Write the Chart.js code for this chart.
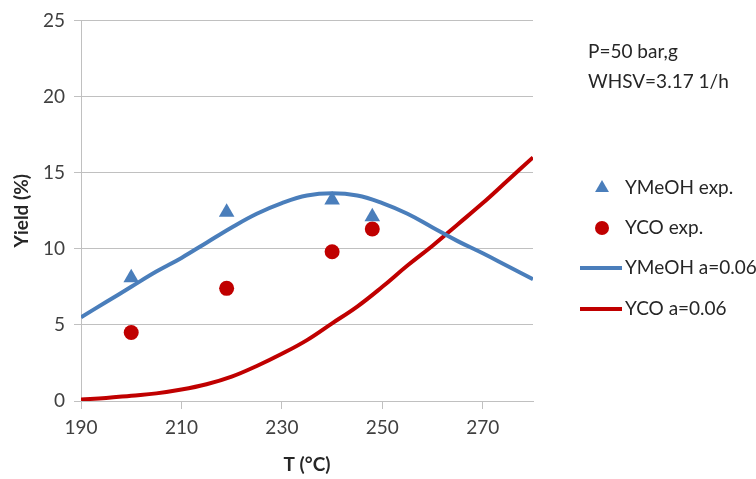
<!DOCTYPE html>
<html>
<head>
<meta charset="utf-8">
<script src="https://cdn.jsdelivr.net/npm/chart.js@4"></script>
<style>
  html, body { margin: 0; padding: 0; background: #fff; }
  #wrap { width: 756px; height: 479px; }
</style>
</head>
<body>
<div id="wrap"><canvas id="yieldChart" width="756" height="479"></canvas></div>
<script>
// experimental points
const expT = [200, 219, 240, 248];
const yMeOHExp = [8.1, 12.4, 13.2, 12.1];
const yCOExp = [4.5, 7.4, 9.8, 11.3];

// model curves (a=0.06)
const modelT = [190, 195, 200, 205, 210, 215, 220, 225, 230, 235, 240, 245, 250, 255, 260, 265, 270, 275, 280];
const yMeOHModel = [5.5, 6.5, 7.5, 8.5, 9.4, 10.4, 11.4, 12.3, 13.0, 13.5, 13.65, 13.5, 13.0, 12.3, 11.4, 10.5, 9.7, 8.85, 8.0];
const yCOModel = [0.1, 0.2, 0.35, 0.5, 0.75, 1.1, 1.6, 2.3, 3.1, 4.0, 5.1, 6.2, 7.5, 8.9, 10.2, 11.6, 13.0, 14.5, 16.0];

const xTicks = [190, 210, 230, 250, 270];
const yTicks = [0, 5, 10, 15, 20, 25];

const noteLines = ['P=50 bar,g', 'WHSV=3.17 1/h'];

const blue = '#4a7ebb';
const red = '#c00000';
const gridColor = '#c0c0c0';
const textColor = '#404040';
const fontFamily = 'Lato, "Open Sans", sans-serif';

const toXY = (xs, ys) => xs.map((x, i) => ({ x: x, y: ys[i] }));

// legend + note drawn at the right side, like the original
const sideLegend = {
    id: 'sideLegend',
    afterDraw(chart) {
        const ctx = chart.ctx;
        ctx.save();
        ctx.fillStyle = '#262626';
        ctx.textBaseline = 'middle';
        ctx.textAlign = 'left';
        ctx.font = '19px ' + fontFamily;
        ctx.fillText(noteLines[0], 588, 52);
        ctx.fillText(noteLines[1], 588, 82);

        const rows = [188, 228, 268, 309];
        chart.data.datasets.forEach((ds, i) => {
            const y = rows[i];
            if (ds.showLine) {
                ctx.strokeStyle = ds.borderColor;
                ctx.lineWidth = ds.borderWidth;
                ctx.beginPath();
                ctx.moveTo(580, y);
                ctx.lineTo(622, y);
                ctx.stroke();
            } else {
                ctx.fillStyle = ds.backgroundColor;
                ctx.beginPath();
                if (ds.pointStyle === 'triangle') {
                    const r = ds.legendRadius;
                    ctx.moveTo(602, y - r);
                    ctx.lineTo(602 + r * 0.866, y + r * 0.5);
                    ctx.lineTo(602 - r * 0.866, y + r * 0.5);
                } else {
                    ctx.arc(602, y, ds.legendRadius, 0, Math.PI * 2);
                }
                ctx.fill();
            }
            ctx.fillStyle = '#262626';
            ctx.fillText(ds.label, 625, y);
        });
        ctx.restore();
    }
};

new Chart(document.getElementById('yieldChart'), {
    type: 'scatter',
    data: {
        datasets: [
            {
                label: 'YMeOH exp.',
                data: toXY(expT, yMeOHExp),
                pointStyle: 'triangle',
                pointRadius: 9,
                legendRadius: 8,
                backgroundColor: blue,
                borderColor: blue,
                borderWidth: 0,
                showLine: false,
                order: 1
            },
            {
                label: 'YCO exp.',
                data: toXY(expT, yCOExp),
                pointStyle: 'circle',
                pointRadius: 7.5,
                legendRadius: 7,
                backgroundColor: red,
                borderColor: red,
                borderWidth: 0,
                showLine: false,
                order: 1
            },
            {
                label: 'YMeOH a=0.06',
                data: toXY(modelT, yMeOHModel),
                showLine: true,
                borderColor: blue,
                backgroundColor: blue,
                borderWidth: 4,
                pointRadius: 0,
                tension: 0.4,
                order: 2
            },
            {
                label: 'YCO a=0.06',
                data: toXY(modelT, yCOModel),
                showLine: true,
                borderColor: red,
                backgroundColor: red,
                borderWidth: 4,
                pointRadius: 0,
                tension: 0.4,
                order: 2
            }
        ]
    },
    options: {
        responsive: false,
        animation: false,
        layout: { padding: { top: 16, right: 223, left: 0, bottom: 0 } },
        plugins: {
            legend: { display: false },
            tooltip: { enabled: false }
        },
        scales: {
            x: {
                type: 'linear',
                min: 190,
                max: 280,
                afterBuildTicks: s => { s.ticks = xTicks.map(v => ({ value: v })); },
                afterFit: s => { s.height = 78; },
                grid: { drawOnChartArea: false, color: gridColor, tickLength: 8 },
                border: { color: gridColor, width: 1 },
                ticks: { color: textColor, font: { family: fontFamily, size: 19 }, padding: 7 },
                title: {
                    display: true,
                    text: 'T (°C)',
                    color: '#262626',
                    font: { family: fontFamily, size: 19, weight: 'bold' },
                    padding: { top: 0, bottom: 3 }
                }
            },
            y: {
                min: 0,
                max: 25,
                afterBuildTicks: s => { s.ticks = yTicks.map(v => ({ value: v })); },
                afterFit: s => { s.width = 81; },
                grid: { color: gridColor, tickLength: 7 },
                border: { color: gridColor, width: 1 },
                ticks: { color: textColor, font: { family: fontFamily, size: 19 }, padding: 9 },
                title: {
                    display: true,
                    text: 'Yield (%)',
                    color: '#262626',
                    font: { family: fontFamily, size: 19, weight: 'bold' },
                    padding: { top: 10, bottom: 0 }
                }
            }
        }
    },
    plugins: [sideLegend]
});
</script>
</body>
</html>
